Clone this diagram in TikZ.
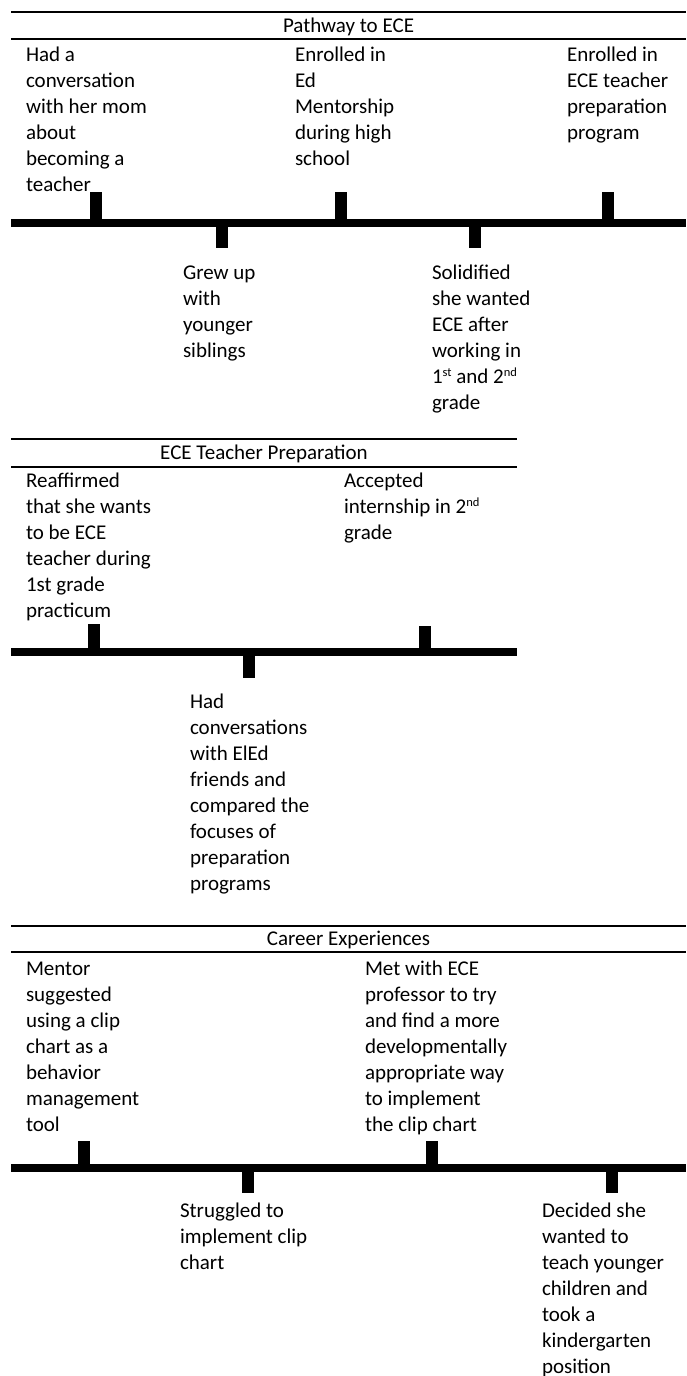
\documentclass[tikz,border=0pt]{standalone}
\usepackage{fontspec}
\setmainfont{Carlito}
\newcommand\txtlines[1]{\vtop{\baselineskip=26pt\lineskiplimit=-50pt\lineskip=0pt\halign{##\hfil\cr#1\crcr}}}
\newcommand\supr[1]{\raisebox{6.5pt}{\fontsize{12.5}{13}\selectfont #1}}
\tikzset{
  every node/.style={font=\fontsize{21}{26}\selectfont, inner sep=0pt, outer sep=0pt},
  lbl/.style={anchor=base west},
  ttl/.style={anchor=base},
  thinrule/.style={line width=1.2pt},
  thickrule/.style={line width=2.4pt},
  timeline/.style={line width=8pt},
  tickmark/.style={line width=12pt},
}
\begin{document}
\begin{tikzpicture}[x=1pt,y=-1pt]
\fill[white] (0,0) rectangle (686,1376);
\useasboundingbox (0,0) rectangle (686,1376);

% ---------------- Section 1: Pathway to ECE ----------------
\coordinate (s1l) at (11,12);   \coordinate (s1r) at (686,12);
\coordinate (s1L) at (11,39);   \coordinate (s1R) at (686,39);
\draw[thinrule] (s1l) -- (s1r);
\draw[thickrule] (s1L) -- (s1R);
\node[ttl] (t1) at (348.5,32) {Pathway to ECE};

\node[lbl] (p1a) at (26,61) {\txtlines{Had a\cr conversation\cr with her mom\cr about\cr becoming a\cr teacher}};
\node[lbl] (p1b) at (295,61) {\txtlines{Enrolled in\cr Ed\cr Mentorship\cr during high\cr school}};
\node[lbl] (p1c) at (567,61) {\txtlines{Enrolled in\cr ECE teacher\cr preparation\cr program}};
\node[lbl] (p1d) at (183,279) {\txtlines{Grew up\cr with\cr younger\cr siblings}};
\node[lbl] (p1e) at (432,279) {\txtlines{Solidified\cr she wanted\cr ECE after\cr working in\cr 1\supr{st} and 2\supr{nd}\cr grade}};

\coordinate (L1a) at (11,223); \coordinate (L1b) at (686,223);
\draw[timeline] (L1a) -- (L1b);
\coordinate (k1a) at (96,223);  \draw[tickmark] (k1a) -- ++(0,-31);
\coordinate (k1b) at (341,223); \draw[tickmark] (k1b) -- ++(0,-31);
\coordinate (k1c) at (608,223); \draw[tickmark] (k1c) -- ++(0,-31);
\coordinate (k1d) at (222,223); \draw[tickmark] (k1d) -- ++(0,25);
\coordinate (k1e) at (475,223); \draw[tickmark] (k1e) -- ++(0,25);

% ---------------- Section 2: ECE Teacher Preparation ----------------
\coordinate (s2l) at (11,439);  \coordinate (s2r) at (517,439);
\coordinate (s2L) at (11,467);  \coordinate (s2R) at (517,467);
\draw[thinrule] (s2l) -- (s2r);
\draw[thickrule] (s2L) -- (s2R);
\node[ttl] (t2) at (264,459.5) {ECE Teacher Preparation};

\node[lbl] (p2a) at (26,487) {\txtlines{Reaffirmed\cr that she wants\cr to be ECE\cr teacher during\cr 1st grade\cr practicum}};
\node[lbl] (p2b) at (344,487) {\txtlines{Accepted\cr internship in 2\supr{nd}\cr grade}};
\node[lbl] (p2c) at (190,708) {\txtlines{Had\cr conversations\cr with ElEd\cr friends and\cr compared the\cr focuses of\cr preparation\cr programs}};

\coordinate (L2a) at (11,652); \coordinate (L2b) at (517,652);
\draw[timeline] (L2a) -- (L2b);
\coordinate (k2a) at (94,652);  \draw[tickmark] (k2a) -- ++(0,-28);
\coordinate (k2b) at (425,652); \draw[tickmark] (k2b) -- ++(0,-26);
\coordinate (k2c) at (249,652); \draw[tickmark] (k2c) -- ++(0,26);

% ---------------- Section 3: Career Experiences ----------------
\coordinate (s3l) at (11,926);  \coordinate (s3r) at (686,926);
\coordinate (s3L) at (11,952);  \coordinate (s3R) at (686,952);
\draw[thinrule] (s3l) -- (s3r);
\draw[thickrule] (s3L) -- (s3R);
\node[ttl] (t3) at (348.5,945.5) {Career Experiences};

\node[lbl] (p3a) at (26,975) {\txtlines{Mentor\cr suggested\cr using a clip\cr chart as a\cr behavior\cr management\cr tool}};
\node[lbl] (p3b) at (365,975) {\txtlines{Met with ECE\cr professor to try\cr and find a more\cr developmentally\cr appropriate way\cr to implement\cr the clip chart}};
\node[lbl] (p3c) at (180,1217) {\txtlines{Struggled to\cr implement clip\cr chart}};
\node[lbl] (p3d) at (542,1217) {\txtlines{Decided she\cr wanted to\cr teach younger\cr children and\cr took a\cr kindergarten\cr position}};

\coordinate (L3a) at (11,1168); \coordinate (L3b) at (686,1168);
\draw[timeline] (L3a) -- (L3b);
\coordinate (k3a) at (84,1168);  \draw[tickmark] (k3a) -- ++(0,-27);
\coordinate (k3b) at (432,1168); \draw[tickmark] (k3b) -- ++(0,-27);
\coordinate (k3c) at (248,1168); \draw[tickmark] (k3c) -- ++(0,25);
\coordinate (k3d) at (612,1168); \draw[tickmark] (k3d) -- ++(0,25);
\end{tikzpicture}
\end{document}
